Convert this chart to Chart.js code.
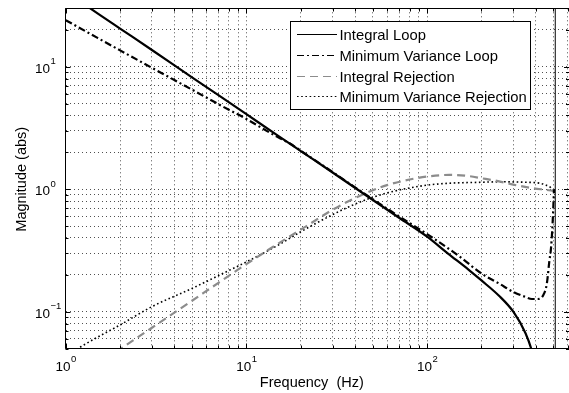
<!DOCTYPE html>
<html>
<head>
<meta charset="utf-8">
<script src="https://cdn.jsdelivr.net/npm/chart.js@4.4.1/dist/chart.umd.min.js"></script>
<style>
    html, body { margin: 0; padding: 0; background: #fff; overflow: hidden; }
    #wrap { width: 569px; height: 393px; }
</style>
</head>
<body>
<div id="wrap"><canvas id="bode" width="569" height="393"></canvas></div>
<script>
// (Hz / abs magnitude)
const intLoopFreq = [1, 1.5, 2, 3, 5, 7, 10, 15, 20, 30, 45, 70, 100, 130, 170, 200, 250, 300, 350, 380, 410];
const intLoopMag = [41, 27.3, 20.5, 13.7, 8.2, 5.86, 4.1, 2.73, 2.05, 1.37, 0.91, 0.585, 0.41, 0.30, 0.22, 0.18, 0.135, 0.10, 0.067, 0.048, 0.03];

const mvLoopFreq = [1, 1.5, 2, 3, 5, 8, 10, 12, 15, 17.5, 20, 30, 45, 70, 100, 150, 200, 250, 300, 350, 380, 410, 440, 460, 475, 485, 492, 497, 501, 504];
const mvLoopMag = [24, 17.2, 13.6, 9.8, 6.5, 4.45, 3.75, 3.2, 2.65, 2.35, 2.06, 1.38, 0.92, 0.6, 0.43, 0.285, 0.205, 0.17, 0.145, 0.132, 0.127, 0.127, 0.137, 0.17, 0.26, 0.33, 0.45, 0.6, 0.8, 1.0];

const intRejFreq = [1.9, 3, 5, 7, 10, 15, 21.5, 30, 45, 60, 80, 100, 133, 170, 200, 250, 300, 385, 450, 500];
const intRejMag = [0.047, 0.074, 0.123, 0.172, 0.245, 0.36, 0.5, 0.68, 0.92, 1.08, 1.2, 1.27, 1.31, 1.28, 1.23, 1.16, 1.09, 1.02, 0.99, 0.97];

const mvRejFreq = [1.15, 1.22, 2, 3, 5, 7.75, 10, 15, 20, 30, 37, 50, 70, 100, 133, 200, 250, 350, 420, 456, 480, 500];
const mvRejMag = [0.049, 0.052, 0.078, 0.11, 0.155, 0.212, 0.255, 0.35, 0.45, 0.62, 0.72, 0.86, 0.985, 1.08, 1.12, 1.14, 1.15, 1.14, 1.12, 1.08, 1.04, 0.97];

// vertical marker at the Nyquist frequency
const limitFreq = [512, 512];
const limitMag = [0.05, 30];

const xGridValues = [1, 2, 3, 4, 5, 6, 7, 8, 9, 10, 20, 30, 40, 50, 60, 70, 80, 90, 100, 200, 300, 400, 500, 600];
const yGridValues = [0.05, 0.06, 0.07, 0.08, 0.09, 0.1, 0.2, 0.3, 0.4, 0.5, 0.6, 0.7, 0.8, 0.9, 1, 2, 3, 4, 5, 6, 7, 8, 9, 10, 20, 30];
const xLabelValues = [1, 10, 100];
const xLabelExps = ['0', '1', '2'];
const yLabelValues = [0.1, 1, 10];
const yLabelExps = ['\u22121', '0', '1'];

const seriesNames = ['Integral Loop', 'Minimum Variance Loop', 'Integral Rejection', 'Minimum Variance Rejection'];

const FONT = '"Liberation Sans", Arial, Helvetica, sans-serif';

function makePoints(xs, ys) {
    return xs.map((x, i) => ({ x: x, y: ys[i] }));
}

function isPow10(v) {
    const l = Math.log10(v);
    return Math.abs(l - Math.round(l)) < 1e-9;
}

const matlabAxes = {
    id: 'matlabAxes',
    afterDraw(chart) {
        const ctx = chart.ctx;
        const area = chart.chartArea;
        const xs = chart.scales.x;
        const ys = chart.scales.y;
        const L = Math.round(area.left) - 0.5;
        const T = Math.round(area.top) + 0.5;
        const B = Math.round(area.bottom) - 0.5;
        const R = area.right;

        ctx.save();
        ctx.strokeStyle = '#000';
        ctx.lineWidth = 1;
        ctx.setLineDash([]);

        // box (right edge falls just off the canvas)
        ctx.beginPath();
        ctx.moveTo(R + 1, T);
        ctx.lineTo(L, T);
        ctx.lineTo(L, B);
        ctx.lineTo(R + 1, B);
        ctx.stroke();

        // inward tick marks on all four sides
        ctx.beginPath();
        xGridValues.forEach(v => {
            const px = Math.round(xs.getPixelForValue(v)) + 0.5;
            const len = isPow10(v) ? 5 : 3;
            ctx.moveTo(px, B); ctx.lineTo(px, B - len);
            ctx.moveTo(px, T); ctx.lineTo(px, T + len);
        });
        yGridValues.forEach(v => {
            const py = Math.round(ys.getPixelForValue(v)) + 0.5;
            const len = isPow10(v) ? 5 : 3;
            ctx.moveTo(L, py); ctx.lineTo(L + len, py);
            ctx.moveTo(R, py); ctx.lineTo(R - len, py);
        });
        ctx.stroke();

        // tick labels 10^n
        ctx.fillStyle = '#000';
        ctx.textAlign = 'left';
        ctx.textBaseline = 'alphabetic';
        xLabelValues.forEach((v, i) => {
            const px = xs.getPixelForValue(v);
            ctx.font = '13.5px ' + FONT;
            const wBase = ctx.measureText('10').width;
            ctx.font = '9.5px ' + FONT;
            const wExp = ctx.measureText(xLabelExps[i]).width;
            const start = px - (wBase + wExp) / 2;
            ctx.font = '13.5px ' + FONT;
            ctx.fillText('10', start, 370.7);
            ctx.font = '9.5px ' + FONT;
            ctx.fillText(xLabelExps[i], start + wBase + 0.5, 362);
        });
        yLabelValues.forEach((v, i) => {
            const py = ys.getPixelForValue(v);
            ctx.font = '13.5px ' + FONT;
            const wBase = ctx.measureText('10').width;
            ctx.fillText('10', 35, py + 6);
            ctx.font = '9.5px ' + FONT;
            ctx.fillText(yLabelExps[i], 35 + wBase + 0.5, py - 2.5);
        });

        // axis titles
        ctx.font = '14.5px ' + FONT;
        ctx.textAlign = 'center';
        ctx.fillText('Frequency  (Hz)', 311.8, 387);
        ctx.save();
        ctx.translate(26, 179.3);
        ctx.rotate(-Math.PI / 2);
        ctx.fillText('Magnitude (abs)', 0, 0);
        ctx.restore();

        // legend box
        const bx = 290.5, by = 21.5, bw = 240, bh = 88;
        ctx.fillStyle = '#fff';
        ctx.fillRect(bx, by, bw, bh);
        ctx.strokeStyle = '#000';
        ctx.strokeRect(bx, by, bw, bh);
        ctx.textAlign = 'left';
        ctx.font = '14.8px ' + FONT;
        seriesNames.forEach((name, i) => {
            const ds = chart.data.datasets[i];
            const ly = Math.round(34.3 + i * 20.7) + 0.5;
            ctx.strokeStyle = ds.borderColor;
            ctx.lineWidth = 1;
            ctx.setLineDash(ds.borderDash || []);
            ctx.beginPath();
            ctx.moveTo(297, ly);
            ctx.lineTo(337, ly);
            ctx.stroke();
            ctx.setLineDash([]);
            ctx.fillStyle = '#000';
            ctx.fillText(name, 339.5, ly + 5);
        });
        ctx.restore();
    }
};

const lineBase = {
    pointRadius: 0,
    fill: false,
    cubicInterpolationMode: 'monotone'
};

new Chart(document.getElementById('bode'), {
    type: 'line',
    data: {
        datasets: [
            Object.assign({}, lineBase, {
                label: seriesNames[0],
                data: makePoints(intLoopFreq, intLoopMag),
                borderColor: '#000',
                borderWidth: 2.2
            }),
            Object.assign({}, lineBase, {
                label: seriesNames[1],
                data: makePoints(mvLoopFreq, mvLoopMag),
                borderColor: '#000',
                borderWidth: 2.2,
                borderDash: [7, 3, 2, 3]
            }),
            Object.assign({}, lineBase, {
                label: seriesNames[2],
                data: makePoints(intRejFreq, intRejMag),
                borderColor: '#8c8c8c',
                borderWidth: 2.2,
                borderDash: [8, 5]
            }),
            Object.assign({}, lineBase, {
                label: seriesNames[3],
                data: makePoints(mvRejFreq, mvRejMag),
                borderColor: '#000',
                borderWidth: 1.6,
                borderDash: [1.6, 2.6]
            }),
            Object.assign({}, lineBase, {
                label: 'limit',
                data: makePoints(limitFreq, limitMag),
                borderColor: '#000',
                borderWidth: 1,
                cubicInterpolationMode: 'default',
                tension: 0
            })
        ]
    },
    options: {
        responsive: false,
        animation: false,
        events: [],
        layout: { padding: { top: 8.3, right: 0, bottom: 0, left: 0 } },
        plugins: {
            legend: { display: false },
            tooltip: { enabled: false }
        },
        scales: {
            x: {
                type: 'logarithmic',
                min: 1,
                max: 610,
                grid: { color: '#505050', lineWidth: 1, drawTicks: false },
                border: { display: false, dash: [1, 3] },
                ticks: { display: false, autoSkip: false },
                afterBuildTicks: s => { s.ticks = xGridValues.map(v => ({ value: v })); },
                afterFit: s => { s.height = 44.4; }
            },
            y: {
                type: 'logarithmic',
                min: 0.05,
                max: 30,
                grid: { color: '#505050', lineWidth: 1, drawTicks: false },
                border: { display: false, dash: [1, 3] },
                ticks: { display: false, autoSkip: false },
                afterBuildTicks: s => { s.ticks = yGridValues.map(v => ({ value: v })); },
                afterFit: s => { s.width = 65.7; }
            }
        }
    },
    plugins: [matlabAxes]
});
</script>
</body>
</html>
